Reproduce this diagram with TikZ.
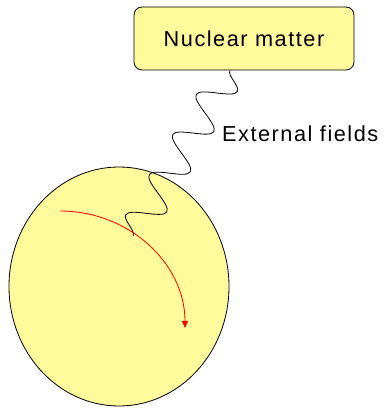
\documentclass[tikz,border=0pt]{standalone}
\usepackage{fontspec}
\setmainfont{Liberation Sans}
\usetikzlibrary{arrows.meta,positioning,shapes.geometric,decorations.pathmorphing}
\definecolor{paleyellow}{RGB}{255,250,155}

\begin{document}
\begin{tikzpicture}[
  x=1pt, y=1pt,
  lbl/.style={font=\fontsize{21.7}{26}\selectfont\addfontfeature{LetterSpace=7}},
  box/.style={draw=black, line width=0.8pt, fill=paleyellow, rounded corners=8pt,
              minimum width=220pt, minimum height=63pt, lbl},
  blob/.style={draw=black, line width=0.8pt, fill=paleyellow, ellipse,
               minimum width=220pt, minimum height=239pt},
  wave/.style={line width=0.8pt, decorate,
               decoration={snake, segment length=46.5pt, amplitude=17pt}},
  arr/.style={-{Triangle[length=7pt,width=6pt]}, red, line width=0.8pt}
]
\useasboundingbox (0,0) rectangle (384,408);
\node[blob] (nucleus) at (119,121.5) {};
\node[box] (matter) at (244,369.5) {Nuclear matter};
\node[lbl, anchor=base west, inner sep=0pt] (fields) at (222,266.3) {External fields};
\coordinate (hit) at (133,172);
\coordinate (orbstart) at (60,197);

\draw[wave] ([xshift=-14pt]matter.south) -- (hit);
\draw[arr] (orbstart) arc[start angle=90, end angle=0, x radius=125, y radius=117];
\end{tikzpicture}
\end{document}
